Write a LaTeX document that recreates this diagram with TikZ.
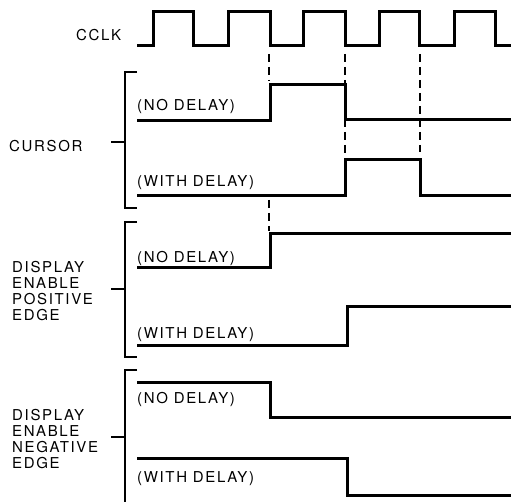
\documentclass[tikz,border=0pt]{standalone}
\usepackage{fontspec}
\setmainfont{TeX Gyre Heros}[LetterSpace=11]
\usetikzlibrary{calc}
\tikzset{%Global config
	x=1pt, y=-1pt,
	color = black ,
	%Styles
	Wave/.style={
		line width=3pt,
		line join=miter,
		line cap=butt,
	},
	Brace/.style={
		line width=1.4pt,
	},
	Guide/.style={
		line width=1.2pt,
		dash pattern=on 8pt off 5pt,
	},
	Label/.style={
		font=\fontsize{15}{17}\selectfont,
		inner sep=0pt,
		anchor=base west,
	},
	Group/.style={
		font=\fontsize{15}{16}\selectfont,
		inner sep=0pt,
		anchor=west,
		align=left,
	}
}

\begin{document}
\begin{tikzpicture}
		\useasboundingbox (0,0) rectangle (511,502);
		% Clock
		\node[Label] (cclk) at (76,41) {CCLK};
		\draw[Wave] (137,46) \foreach \r/\f in {153/193,228/270,303/345,379/419,454/495}{
			-- (\r,46) -- (\r,12) -- (\f,12) -- (\f,46)} -- (511,46);
		
		% Cursor
		\node[Label] (cur) at (9,152) {CURSOR};
		\draw[Brace] (137,72) -- (125,72) -- (125,208) -- (137,208);
		\draw[Brace] (125,142) -- (111,142);
		\node[Label] (curN) at (137,111) {(NO DELAY)};
		\draw[Wave] (137,121) -- (270,121) -- (270,85) -- (345,85) -- (345,120) -- (511,120);
		\node[Label] (curW) at (137,187) {(WITH DELAY)};
		\draw[Wave] (137,196) -- (345,196) -- (345,160) -- (420,160) -- (420,196) -- (511,196);
		
		% Guides from the clock edges
		\foreach \n/\x/\a/\b in {1/269/54/81, 2/345/54/157, 3/420/54/152, 4/269/200/231}{
			\coordinate (g\n a) at (\x,\a);
			\coordinate (g\n b) at (\x,\b);
			\draw[Guide] (g\n a) -- (g\n b);
		}
		
		% Display enable, positive edge
		\node[Group] (dep) at (12,291) {DISPLAY\\ENABLE\\POSITIVE\\EDGE};
		\draw[Brace] (137,222) -- (125,222) -- (125,357) -- (137,357);
		\draw[Brace] (125,289) -- (111,289);
		\node[Label] (depN) at (137,263) {(NO DELAY)};
		\draw[Wave] (137,268) -- (270,268) -- (270,234) -- (511,234);
		\node[Label] (depW) at (137,338) {(WITH DELAY)};
		\draw[Wave] (137,345) -- (347,345) -- (347,307) -- (511,307);
		
		% Display enable, negative edge
		\node[Group] (den) at (12,439) {DISPLAY\\ENABLE\\NEGATIVE\\EDGE};
		\draw[Brace] (137,370) -- (125,370) -- (125,502);
		\draw[Brace] (125,437) -- (111,437);
		\node[Label] (denN) at (137,403) {(NO DELAY)};
		\draw[Wave] (137,382) -- (270,382) -- (270,417) -- (511,417);
		\node[Label] (denW) at (137,482) {(WITH DELAY)};
		\draw[Wave] (137,458) -- (347,458) -- (347,495) -- (511,495);
	\end{tikzpicture}
\end{document}
